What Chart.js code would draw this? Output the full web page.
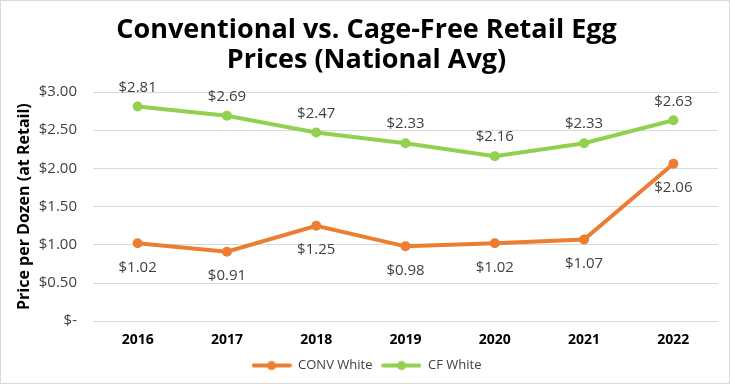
<!DOCTYPE html>
<html>
<head>
<meta charset="utf-8">
<script src="https://cdn.jsdelivr.net/npm/chart.js@4"></script>
<style>
  html, body { margin: 0; padding: 0; background: #fff; }
  #wrap { width: 728px; height: 382px; border: 1px solid #d9d9d9; }
</style>
</head>
<body>
<div id="wrap"><canvas id="chart" width="728" height="382"></canvas></div>
<script>
const years = ["2016", "2017", "2018", "2019", "2020", "2021", "2022"];
const convWhite = [1.02, 0.91, 1.25, 0.98, 1.02, 1.07, 2.06];
const cfWhite = [2.81, 2.69, 2.47, 2.33, 2.16, 2.33, 2.63];
const yTicks = [0, 0.5, 1, 1.5, 2, 2.5, 3];

const ORANGE = "#ED7D31";
const GREEN = "#92D050";
const FONT = "'Open Sans', sans-serif";

const money = (v) => (v === 0 ? "$-" : "$" + v.toFixed(2));

// little line+dot marker for the legend
function legendMarker(color) {
  const c = document.createElement("canvas");
  c.width = 40;
  c.height = 12;
  const ctx = c.getContext("2d");
  ctx.strokeStyle = color;
  ctx.lineWidth = 4;
  ctx.lineCap = "round";
  ctx.beginPath();
  ctx.moveTo(2, 6);
  ctx.lineTo(38, 6);
  ctx.stroke();
  ctx.fillStyle = color;
  ctx.beginPath();
  ctx.arc(20, 6, 4.5, 0, Math.PI * 2);
  ctx.fill();
  return c;
}

// value labels: green above, orange below
const valueLabels = {
  id: "valueLabels",
  afterDatasetsDraw(chart) {
    const ctx = chart.ctx;
    ctx.save();
    ctx.font = "15px " + FONT;
    ctx.fillStyle = "#404040";
    ctx.textAlign = "center";
    ctx.textBaseline = "middle";
    chart.data.datasets.forEach((ds, i) => {
      const meta = chart.getDatasetMeta(i);
      meta.data.forEach((pt, j) => {
        const dy = ds.labelPos === "above" ? -19 : 24;
        ctx.fillText(money(ds.data[j]), pt.x, pt.y + dy);
      });
    });
    ctx.restore();
  },
};

new Chart(document.getElementById("chart"), {
  type: "line",
  data: {
    labels: years,
    datasets: [
      {
        label: "CONV White",
        data: convWhite,
        borderColor: ORANGE,
        backgroundColor: ORANGE,
        borderWidth: 4,
        pointRadius: 5,
        pointBorderWidth: 0,
        pointHoverRadius: 5,
        labelPos: "below",
      },
      {
        label: "CF White",
        data: cfWhite,
        borderColor: GREEN,
        backgroundColor: GREEN,
        borderWidth: 4,
        pointRadius: 5,
        pointBorderWidth: 0,
        pointHoverRadius: 5,
        labelPos: "above",
      },
    ],
  },
  options: {
    responsive: false,
    animation: false,
    layout: { padding: { left: 14, right: 11, top: 4, bottom: 1 } },
    plugins: {
      title: {
        display: true,
        text: ["Conventional vs. Cage-Free Retail Egg", "Prices (National Avg)"],
        color: "#000",
        font: { family: FONT, size: 27, weight: "bold", lineHeight: 1.13 },
        padding: { top: 10, bottom: 16 },
      },
      legend: {
        position: "bottom",
        labels: {
          color: "#404040",
          font: { family: FONT, size: 13 },
          usePointStyle: true,
          pointStyleWidth: 40,
          boxHeight: 12,
          padding: 9,
          generateLabels(chart) {
            return chart.data.datasets.map((ds, i) => ({
              text: ds.label,
              fillStyle: ds.borderColor,
              strokeStyle: ds.borderColor,
              fontColor: "#404040",
              pointStyle: legendMarker(ds.borderColor),
              datasetIndex: i,
              hidden: false,
            }));
          },
        },
      },
      tooltip: { enabled: false },
    },
    scales: {
      x: {
        offset: true,
        grid: { display: false },
        border: { display: false },
        ticks: {
          color: "#000",
          font: { family: FONT, size: 14, weight: "bold" },
          padding: 2,
        },
      },
      y: {
        min: 0,
        max: 3,
        afterFit(scale) { scale.width = 78; },
        afterBuildTicks(scale) { scale.ticks = yTicks.map((v) => ({ value: v })); },
        grid: { color: "#d9d9d9", lineWidth: 1, drawTicks: false },
        border: { display: false },
        ticks: {
          color: "#404040",
          font: { family: FONT, size: 15 },
          padding: 16,
          callback: (v) => money(v),
        },
        title: {
          display: true,
          text: "Price per Dozen (at Retail)",
          color: "#000",
          font: { family: FONT, size: 16, weight: "bold" },
          padding: 0,
        },
      },
    },
  },
  plugins: [valueLabels],
});
</script>
</body>
</html>
